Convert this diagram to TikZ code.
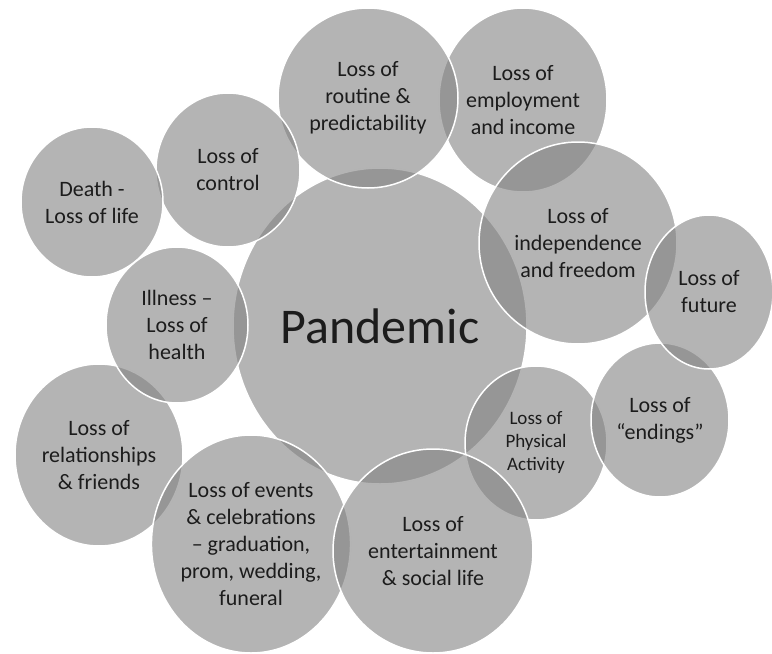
\documentclass[tikz,border=0pt]{standalone}
\usepackage{fontspec}
\setmainfont{Carlito}
\usetikzlibrary{shapes.geometric}

\definecolor{bubblegray}{RGB}{130,130,130}
\definecolor{labelgray}{RGB}{28,28,28}

\tikzset{
  bubble/.style={ellipse, inner sep=0pt, outer sep=0pt,
    fill=bubblegray, fill opacity=0.6, text opacity=1,
    draw=white, line width=1.5pt, text=labelgray, align=center,
    font=\fontsize{22}{27}\selectfont},
}

\begin{document}
\begin{tikzpicture}[x=1pt, y=-1pt]
  \useasboundingbox (0,0) rectangle (772,654);

  % Centre bubble
  \node[bubble, minimum width=294pt, minimum height=316pt,
    font=\fontsize{50}{60}\selectfont] (pandemic) at (380,326) {Pandemic};

  % Bubbles round it, back to front
  \node[bubble, minimum width=168pt, minimum height=184pt] (employment) at (523,100)
    {Loss of\\employment\\and income};
  \node[bubble, minimum width=180pt, minimum height=180pt] (routine) at (368,98)
    {Loss of\\routine \&\\predictability};
  \node[bubble, minimum width=198pt, minimum height=202pt] (independence) at (578,243)
    {Loss of\\independence\\and freedom};
  \node[bubble, minimum width=144pt, minimum height=154pt] (control) at (228,170)
    {Loss of\\control};
  \node[bubble, minimum width=142pt, minimum height=150pt] (death) at (92,202)
    {Death -\\Loss of life};
  \node[bubble, minimum width=168pt, minimum height=182pt] (relationships) at (99,455)
    {Loss of\\relationships\\\& friends};
  \node[bubble, minimum width=142pt, minimum height=156pt] (illness) at (177,325)
    {Illness –\\Loss of\\health};
  \node[bubble, minimum width=194pt, minimum height=218pt] (events) at (251,544)
    {Loss of events\\\& celebrations\\– graduation,\\prom, wedding,\\funeral};
  \node[bubble, minimum width=142pt, minimum height=154pt,
    font=\fontsize{19}{23}\selectfont] (physical) at (536,443)
    {Loss of\\Physical\\Activity};
  \node[bubble, minimum width=200pt, minimum height=204pt] (entertainment) at (433,551)
    {Loss of\\entertainment\\\& social life};
  \node[bubble, minimum width=138pt, minimum height=154pt] (endings) at (660,420)
    {Loss of\\“endings”};
  \node[bubble, minimum width=128pt, minimum height=154pt] (future) at (709,292)
    {Loss of\\future};
\end{tikzpicture}
\end{document}
